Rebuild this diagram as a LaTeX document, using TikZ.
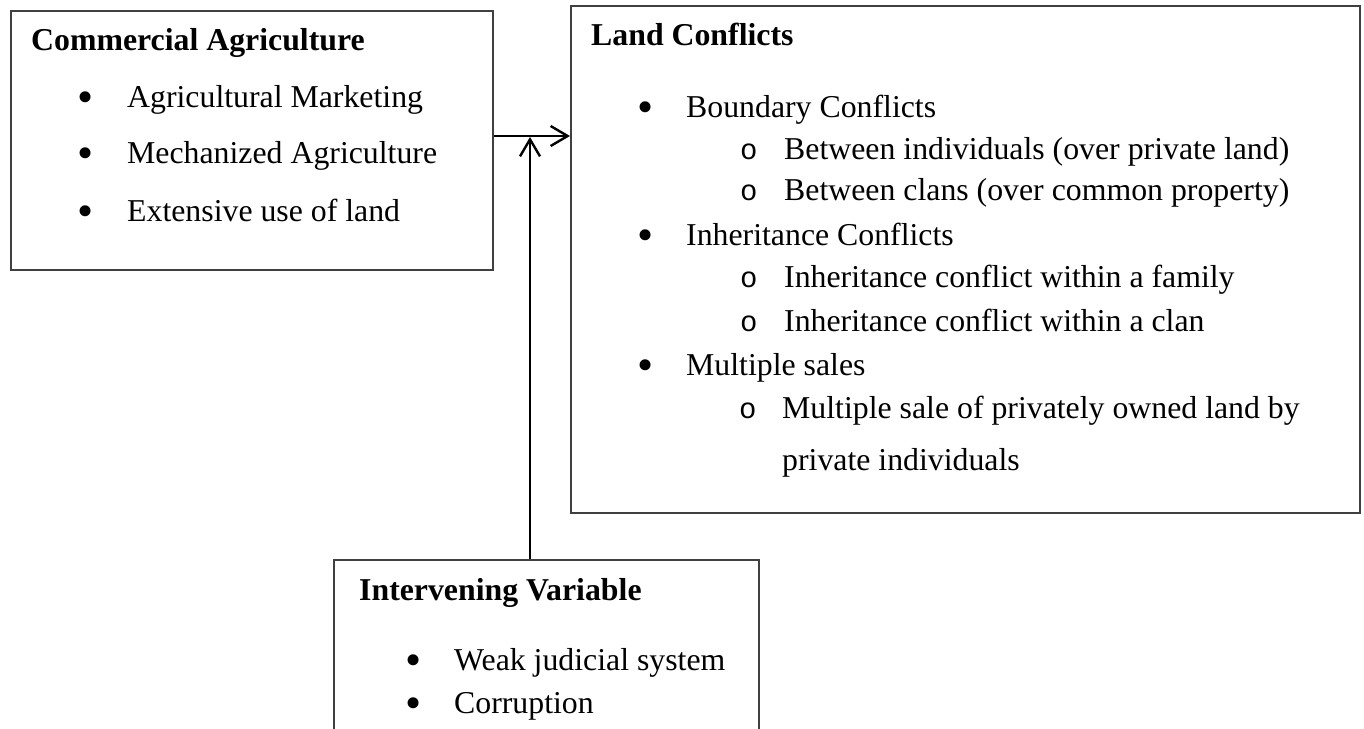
\documentclass[tikz,border=0pt]{standalone}
\usepackage{fontspec}
\setmainfont{Liberation Serif}
\newfontfamily\monofam{Liberation Mono}
\usetikzlibrary{arrows.meta}
\begin{document}
\begin{tikzpicture}[x=1pt,y=-1pt,
  boxstyle/.style={draw=black!75, line width=2pt, anchor=north west, inner sep=0pt},
  txt/.style={anchor=base west, inner sep=0pt, font=\fontsize{31.8}{38}\selectfont},
  head/.style={txt, font=\fontsize{31.8}{38}\selectfont\bfseries},
  bul/.style={anchor=base west, inner sep=0pt, font=\fontsize{46}{50}\selectfont, yshift=-5pt},
  sub/.style={anchor=base west, inner sep=0pt, font=\fontsize{29}{34}\monofam},
  arr/.style={line width=2.4pt, -{Straight Barb[length=17pt, width=20pt, line width=2.4pt]}}
]
\useasboundingbox (0,0) rectangle (1364,728);
\fill[white] (0,0) rectangle (1364,728);
% boxes
\node[boxstyle, minimum width=482pt, minimum height=259pt] (b1) at (10,10) {};
\node[boxstyle, minimum width=789pt, minimum height=507pt] (b2) at (570,5) {};
\node[boxstyle, minimum width=425pt, minimum height=200pt] (b3) at (333,559) {};
% box 1 text
\node[head] (t1) at (31,50) {Commercial Agriculture};
\node[bul] (p11) at (77,107) {•};
\node[txt] (t11) at (127,107) {Agricultural Marketing};
\node[bul] (p12) at (77,163) {•};
\node[txt] (t12) at (127,163) {Mechanized Agriculture};
\node[bul] (p13) at (77,221) {•};
\node[txt] (t13) at (127,221) {Extensive use of land};
% box 2 text
\node[head] (t2) at (591,45) {Land Conflicts};
\node[bul] (p21) at (637,117) {•};
\node[txt] (t21) at (686,117) {Boundary Conflicts};
\node[sub] (s211) at (740,159) {o};
\node[txt] (t211) at (784,159) {Between individuals (over private land)};
\node[sub] (s212) at (740,200) {o};
\node[txt] (t212) at (784,200) {Between clans (over common property)};
\node[bul] (p22) at (637,245) {•};
\node[txt] (t22) at (686,245) {Inheritance Conflicts};
\node[sub] (s221) at (740,287) {o};
\node[txt] (t221) at (784,287) {Inheritance conflict within a family};
\node[sub] (s222) at (740,331) {o};
\node[txt] (t222) at (784,331) {Inheritance conflict within a clan};
\node[bul] (p23) at (637,375) {•};
\node[txt] (t23) at (686,375) {Multiple sales};
\node[sub] (s231) at (739,418) {o};
\node[txt] (t231) at (782,418) {Multiple sale of privately owned land by};
\node[txt] (t232) at (782,470) {private individuals};
% box 3 text
\node[head] (t3) at (359,600) {Intervening Variable};
\node[bul] (p31) at (405,670) {•};
\node[txt] (t31) at (454,670) {Weak judicial system};
\node[bul] (p32) at (405,713) {•};
\node[txt] (t32) at (454,713) {Corruption};
% connectors
\coordinate (h) at (0,136);
\coordinate (j) at (530,137);
\draw[arr] (b1.east |- h) -- (b2.west |- h);
\draw[arr] (b3.north -| j) -- (j);
\end{tikzpicture}
\end{document}
